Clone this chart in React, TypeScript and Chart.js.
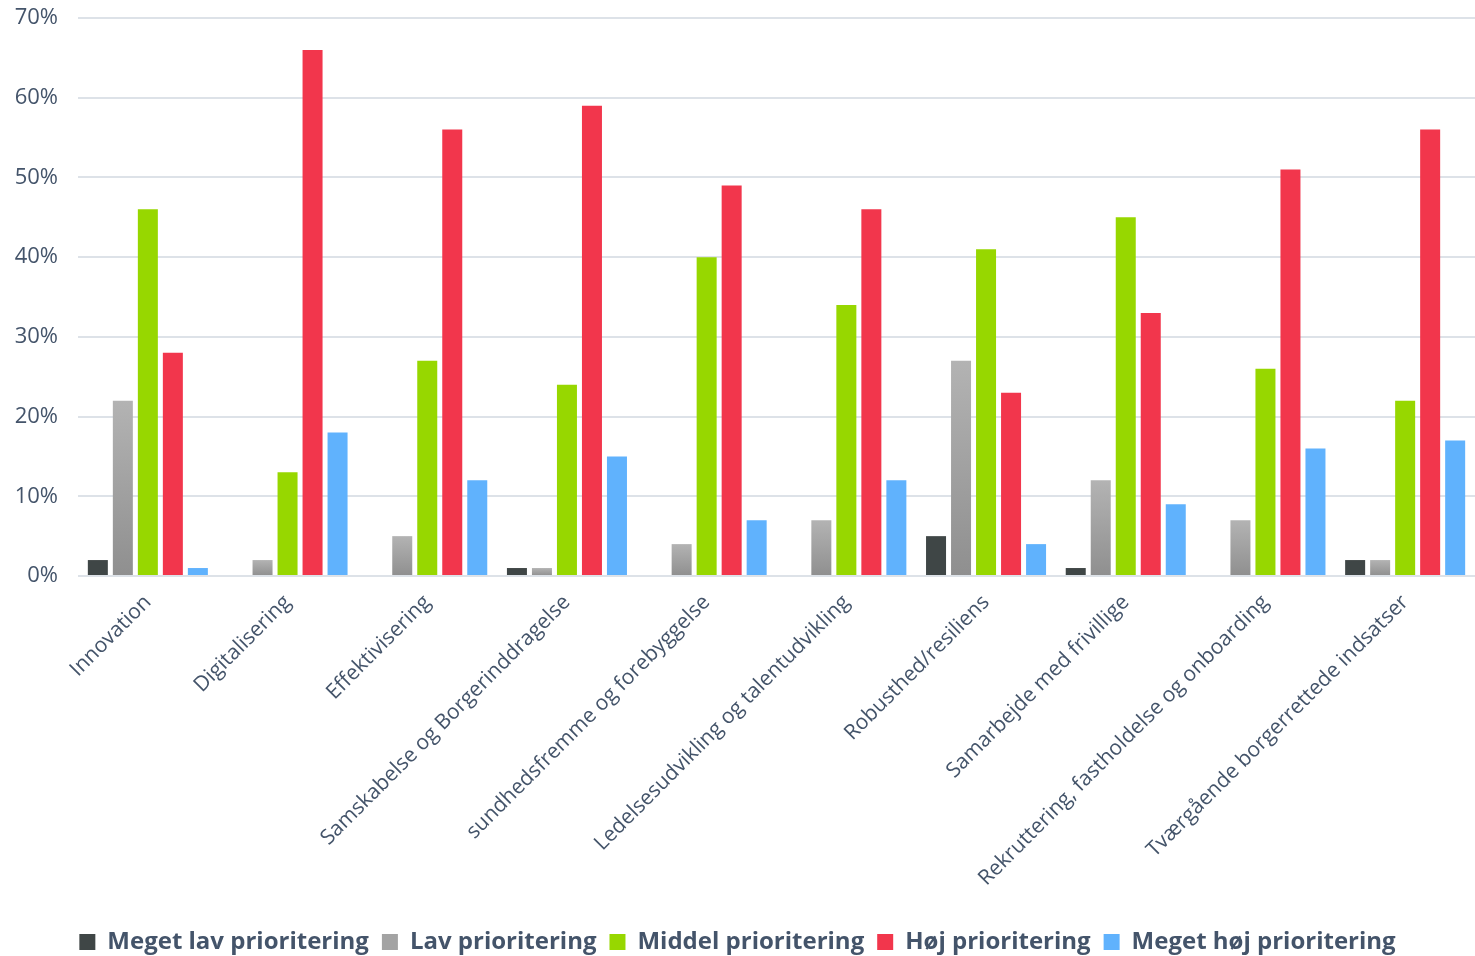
import React, { useEffect, useRef } from "react";
import { Chart, registerables } from "chart.js";

Chart.register(...registerables);

const categories = [
  "Innovation",
  "Digitalisering",
  "Effektivisering",
  "Samskabelse og Borgerinddragelse",
  "sundhedsfremme og forebyggelse",
  "Ledelsesudvikling og talentudvikling",
  "Robusthed/resiliens",
  "Samarbejde med frivillige",
  "Rekruttering, fastholdelse og onboarding",
  "Tværgående borgerrettede indsatser",
];

const megetLav = [2, 0, 0, 1, 0, 0, 5, 1, 0, 2];
const lav = [22, 2, 5, 1, 4, 7, 27, 12, 7, 2];
const middel = [46, 13, 27, 24, 40, 34, 41, 45, 26, 22];
const hoj = [28, 66, 56, 59, 49, 46, 23, 33, 51, 56];
const megetHoj = [1, 18, 12, 15, 7, 12, 4, 9, 16, 17];

const seriesNames = [
  "Meget lav prioritering",
  "Lav prioritering",
  "Middel prioritering",
  "Høj prioritering",
  "Meget høj prioritering",
];

const yTicks = [0, 10, 20, 30, 40, 50, 60, 70];

const TEXT = "#44546a";

export default function App() {
  const ref = useRef<HTMLCanvasElement>(null);

  useEffect(() => {
    if (!ref.current) return;

    const grayGradient = (c: any) => {
      const chart = c.chart;
      const y = chart.scales && chart.scales.y;
      if (!y || c.raw === undefined || y.getPixelForValue === undefined) return "#a0a0a0";
      const top = y.getPixelForValue(c.raw);
      const base = y.getPixelForValue(0);
      if (!isFinite(top) || !isFinite(base) || top === base) return "#a0a0a0";
      const g = chart.ctx.createLinearGradient(0, top, 0, base);
      g.addColorStop(0, "#b3b3b3");
      g.addColorStop(1, "#8f8f8f");
      return g;
    };

    const legendColors = ["#3f4646", "#a3a3a3", "#97d700", "#f2364c", "#60b2fd"];

    const chart = new Chart(ref.current, {
      type: "bar",
      data: {
        labels: categories,
        datasets: [
          { label: seriesNames[0], data: megetLav, backgroundColor: "#3f4646" },
          { label: seriesNames[1], data: lav, backgroundColor: grayGradient },
          { label: seriesNames[2], data: middel, backgroundColor: "#97d700" },
          { label: seriesNames[3], data: hoj, backgroundColor: "#f2364c" },
          { label: seriesNames[4], data: megetHoj, backgroundColor: "#60b2fd" },
        ],
      },
      options: {
        animation: false,
        responsive: true,
        maintainAspectRatio: false,
        layout: { padding: { top: 18, right: 0, left: 0, bottom: -8 } },
        datasets: {
          bar: { categoryPercentage: 0.895, barPercentage: 0.8, borderWidth: 0 },
        },
        plugins: {
          tooltip: { enabled: false },
          legend: {
            position: "bottom",
            labels: {
              boxWidth: 16,
              boxHeight: 16,
              padding: 13,
              color: TEXT,
              font: { family: "'Open Sans'", size: 24, weight: "bold" },
              generateLabels: (ch: any) =>
                ch.data.datasets.map((d: any, i: number) => ({
                  text: d.label,
                  fillStyle: legendColors[i],
                  strokeStyle: legendColors[i],
                  lineWidth: 0,
                  hidden: false,
                  datasetIndex: i,
                  fontColor: TEXT,
                })),
            },
          },
        },
        scales: {
          x: {
            grid: { display: false, drawTicks: false },
            border: { display: false },
            ticks: {
              color: TEXT,
              font: { family: "'Open Sans'", size: 21 },
              minRotation: 45,
              maxRotation: 45,
              autoSkip: false,
              padding: 14,
            },
            afterFit: (s: any) => {
              s.height = 341;
              s.paddingLeft = 0;
              s.paddingRight = 0;
            },
          },
          y: {
            min: 0,
            max: 70,
            afterBuildTicks: (s: any) => {
              s.ticks = yTicks.map((v) => ({ value: v }));
            },
            grid: { color: "#dde2e8", lineWidth: 2, drawTicks: false },
            border: { display: false },
            ticks: {
              color: TEXT,
              font: { family: "'Open Sans'", size: 22 },
              padding: 20,
              callback: (v: any) => v + "%",
            },
            afterFit: (s: any) => {
              s.width = 78;
              s.paddingTop = 0;
              s.paddingBottom = 0;
            },
          },
        },
      },
    });

    return () => chart.destroy();
  }, []);

  return (
    <div style={{ position: "absolute", left: 0, top: 0, width: 1475, height: 956 }}>
      <canvas ref={ref} />
    </div>
  );
}
